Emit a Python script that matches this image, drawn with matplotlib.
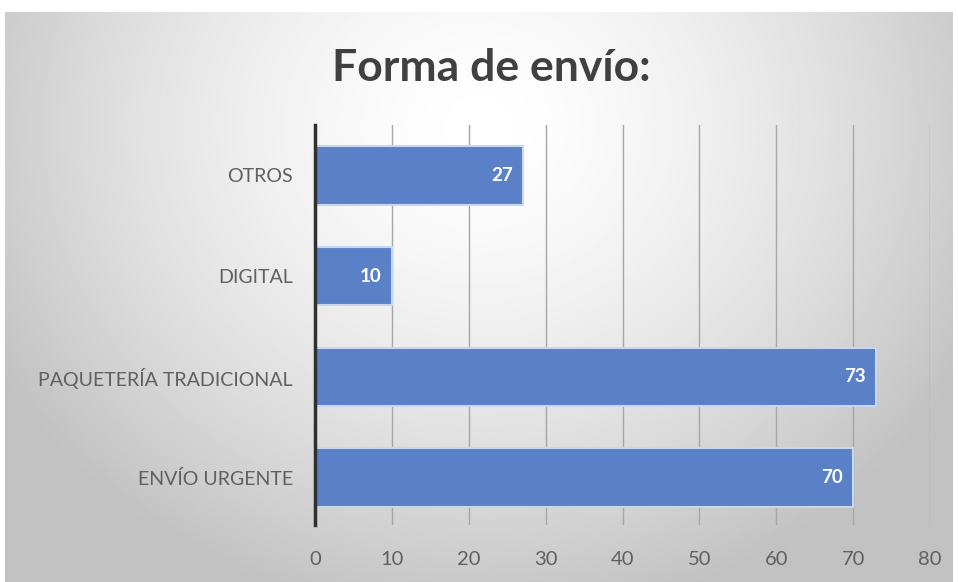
import matplotlib
matplotlib.use("Agg")
import matplotlib.pyplot as plt
import numpy as np

categories = ["ENVÍO URGENTE", "PAQUETERÍA TRADICIONAL", "DIGITAL", "OTROS"]
values = [70, 73, 10, 27]
x_ticks = [0, 10, 20, 30, 40, 50, 60, 70, 80]

plt.rcParams["font.family"] = ["Lato", "DejaVu Sans"]

fig = plt.figure(figsize=(9.58, 5.82), dpi=100)
fig.patch.set_facecolor("white")

# soft radial grey backdrop like the pasted Excel chart
bg = fig.add_axes([5 / 958, 0, 948 / 958, 570 / 582])
yy, xx = np.mgrid[0:1:300j, 0:1:500j]
r = np.sqrt(((xx - 0.5) / 0.6) ** 2 + ((yy - 0.2) / 0.9) ** 2)
shade = np.clip(1.0 - 0.25 * r ** 1.5, 0.76, 1.0)
bg.imshow(shade, cmap="gray", vmin=0, vmax=1, aspect="auto",
          extent=[0, 1, 1, 0], interpolation="bilinear")
bg.axis("off")

ax = fig.add_axes([315 / 958, 1 - 525 / 582, 615 / 958, 400 / 582])
ax.patch.set_alpha(0)
y = np.arange(len(categories))
ax.barh(y, values, height=0.58, color="#5a80c8", edgecolor="#c9d6ef",
        linewidth=1.5, zorder=3)
for yi, v in zip(y, values):
    ax.text(v - 1.3, yi, str(v), ha="right", va="center", color="white",
            fontsize=13.5, fontweight="bold", zorder=4)

ax.set_xlim(0, 80)
ax.set_ylim(-0.47, 3.5)
ax.set_xticks(x_ticks)
ax.set_yticks(y)
ax.set_yticklabels(categories)
ax.grid(axis="x", color="#a6a6a6", lw=1, zorder=1)
ax.set_axisbelow(True)
for side in ["top", "right", "bottom"]:
    ax.spines[side].set_visible(False)
ax.spines["left"].set_color("#303030")
ax.spines["left"].set_linewidth(2.5)
ax.spines["left"].set_zorder(5)
ax.tick_params(axis="both", length=0, colors="#606060")
ax.tick_params(axis="x", pad=19, labelsize=14.5)
ax.tick_params(axis="y", pad=16, labelsize=14.1)

fig.text(491 / 958, 1 - 68 / 582, "Forma de envío:", ha="center", va="center",
         fontsize=32, fontweight="bold", color="#404040")

fig.savefig("out.png", dpi=100)
